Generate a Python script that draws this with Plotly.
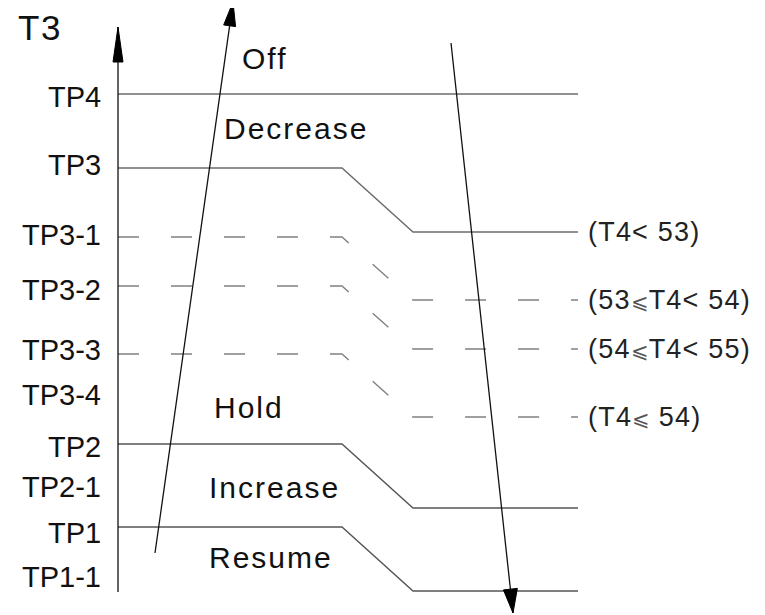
import math
import plotly.graph_objects as go

W, H = 765, 615
PAGE_PAD = 8  # default body margin of the html page

# threshold labels along the T3 axis (diagram units, y grows downward)
tp_labels = ["TP4", "TP3", "TP3-1", "TP3-2", "TP3-3", "TP3-4", "TP2", "TP2-1", "TP1", "TP1-1"]
tp_label_y = [97, 165, 235, 290, 350, 395, 447, 487, 533, 577]

# solid boundaries: level on the left -> level after the T4 step
solid_left = [94, 168, 444, 527]
solid_right = [94, 232, 508, 591]

# dashed boundaries (TP3-1 .. TP3-3, shifted by T4)
dashed_left = [237, 286, 354]
dashed_right = [300, 349, 417]

# T4 conditions, split around the small "⩽" sign
t4_before = ["(T4&lt; 53)", "(53", "(54", "(T4"]
t4_after = ["", "T4&lt; 54)", "T4&lt; 55)", " 54)"]
t4_label_y = [232, 300, 349, 417]

zones = ["Off", "Decrease", "Hold", "Increase", "Resume"]
zone_x = [240, 222, 212, 207, 207]
zone_y = [58, 128, 407, 487, 557]

X_AXIS, X_BEND0, X_BEND1, X_END = 118, 342, 413, 578
LINE = "#6b6b6b"
FONT = "Liberation Sans, Arial, sans-serif"

fig = go.Figure()


def step_line(y0, y1, dash=None, color=LINE):
    xs = [X_AXIS, X_BEND0, X_BEND1, X_END] if y0 != y1 else [X_AXIS, X_END]
    ys = [y0, y0, y1, y1] if y0 != y1 else [y0, y1]
    fig.add_trace(go.Scatter(
        x=xs, y=ys, mode="lines", hoverinfo="skip", showlegend=False,
        line=dict(color=color, width=1.4, dash=dash),
    ))


for y0, y1 in zip(solid_left, solid_right):
    step_line(y0, y1, color="#555555" if y0 > 300 else LINE)
for y0, y1 in zip(dashed_left, dashed_right):
    step_line(y0, y1, dash="21px,32px", color="#808080")


def arrow(x0, y0, x1, y1, head_len, head_w):
    fig.add_trace(go.Scatter(
        x=[x0, x1], y=[y0, y1], mode="lines", hoverinfo="skip", showlegend=False,
        line=dict(color="#111111", width=1.3),
    ))
    L = math.hypot(x1 - x0, y1 - y0)
    ux, uy = (x1 - x0) / L, (y1 - y0) / L
    bx, by = x1 - ux * head_len, y1 - uy * head_len
    px_, py_ = -uy * head_w / 2, ux * head_w / 2
    fig.add_trace(go.Scatter(
        x=[x1, bx + px_, bx - px_, x1], y=[y1, by + py_, by - py_, y1],
        mode="lines", fill="toself", fillcolor="#000000",
        line=dict(color="#000000", width=1), hoverinfo="skip", showlegend=False,
    ))


arrow(X_AXIS, 592, X_AXIS, 27, 35, 10)
arrow(155, 553, 233, 2, 24, 12)
arrow(451, 43, 513, 613, 24, 14)


def spaced(t, px):
    return f'<span style="letter-spacing:{px}px">{t}</span>' if t else ""


ann = []
ann.append(dict(x=16, y=27, text=spaced("T3", 1.5), xanchor="left", yanchor="middle",
                font=dict(size=35, color="#111111", family=FONT)))
for t, y in zip(tp_labels, tp_label_y):
    ann.append(dict(x=103, y=y, text=t, xanchor="right", yanchor="middle",
                    font=dict(size=29, color="#111111", family=FONT)))
for t, x, y in zip(zones, zone_x, zone_y):
    ann.append(dict(x=x, y=y, text=spaced(t, 2), xanchor="left", yanchor="middle",
                    font=dict(size=30, color="#111111", family=FONT)))
for a_, b_, y in zip(t4_before, t4_after, t4_label_y):
    txt = spaced(a_, 1.2)
    if b_:
        txt += '<span style="font-size:21px;color:#555555">⩽</span>' + spaced(b_, 1.2)
    ann.append(dict(x=586, y=y, text=txt, xanchor="left", yanchor="middle",
                    font=dict(size=27, color="#222222", family=FONT)))
for a in ann:
    a.update(showarrow=False, xref="x", yref="y")

fig.update_layout(
    width=W, height=H,
    margin=dict(l=0, r=0, t=0, b=0),
    paper_bgcolor="white", plot_bgcolor="white",
    xaxis=dict(range=[PAGE_PAD, W + PAGE_PAD], visible=False, fixedrange=True),
    yaxis=dict(range=[H + PAGE_PAD, PAGE_PAD], visible=False, fixedrange=True),
    annotations=ann,
    showlegend=False,
)

fig.write_html("out.html", config={"displayModeBar": False})
